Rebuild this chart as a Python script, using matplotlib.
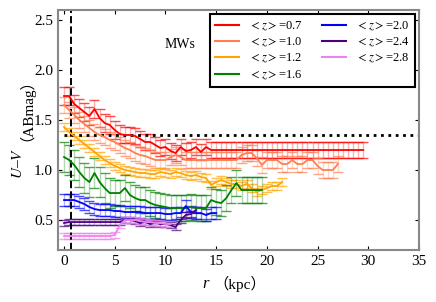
import matplotlib
matplotlib.use("Agg")
import matplotlib.pyplot as plt
from matplotlib.lines import Line2D
import numpy as np

plt.rcParams['font.family'] = ['Liberation Serif', 'Noto Sans CJK JP']
plt.rcParams['mathtext.fontset'] = 'stix'

# radius grid (kpc), 0.5 kpc bins
r_red = np.arange(0, 30, 0.5)
c_red = [1.74, 1.74, 1.66, 1.62, 1.58, 1.54, 1.61, 1.52, 1.47, 1.45,
         1.40, 1.36, 1.35, 1.35, 1.34, 1.31, 1.28, 1.28, 1.25, 1.22,
         1.23, 1.19, 1.17, 1.23, 1.19, 1.20, 1.23, 1.18, 1.23, 1.20,
         1.20, 1.20, 1.20, 1.20, 1.20, 1.20, 1.20, 1.20, 1.20, 1.20,
         1.20, 1.20, 1.20, 1.20, 1.20, 1.20, 1.20, 1.20, 1.20, 1.20,
         1.20, 1.20, 1.20, 1.20, 1.20, 1.20, 1.20, 1.20, 1.20, 1.20]
e_red = [0.09] * 12 + [0.08] * 48

r_coral = np.arange(0, 27.5, 0.5)
c_coral = [1.65, 1.60, 1.55, 1.50, 1.46, 1.42, 1.38, 1.35, 1.33, 1.30,
           1.28, 1.25, 1.22, 1.20, 1.17, 1.15, 1.14, 1.12, 1.10, 1.10,
           1.10, 1.13, 1.15, 1.13, 1.10, 1.10, 1.10, 1.10, 1.10, 1.10,
           1.10, 1.10, 1.10, 1.10, 1.10, 1.15, 1.17, 1.17, 1.12, 1.05,
           1.10, 1.10, 1.10, 1.06, 1.06, 1.10, 1.06, 1.06, 1.10, 1.10,
           1.04, 1.00, 1.00, 1.00, 1.06]
e_coral = [0.08] * 55

r_orange = np.arange(0, 22, 0.5)
c_orange = [1.43, 1.38, 1.34, 1.30, 1.26, 1.22, 1.18, 1.14, 1.10, 1.07,
            1.04, 1.02, 1.00, 0.99, 0.98, 0.97, 0.97, 0.96, 0.96, 0.98,
            0.97, 0.96, 0.98, 0.97, 0.95, 0.94, 0.95, 0.93, 0.92, 0.85,
            0.88, 0.90, 0.88, 0.86, 0.86, 0.84, 0.86, 0.82, 0.78, 0.80,
            0.82, 0.84, 0.84, 0.88]
e_orange = [0.04] * 44

r_green = np.arange(0, 20, 0.5)
c_green = [1.13, 1.10, 1.05, 0.98, 0.92, 0.88, 0.97, 0.88, 0.82, 0.77,
           0.77, 0.77, 0.82, 0.75, 0.72, 0.70, 0.70, 0.67, 0.65, 0.64,
           0.63, 0.62, 0.62, 0.62, 0.62, 0.63, 0.62, 0.62, 0.62, 0.70,
           0.68, 0.67, 0.72, 0.80, 0.87, 0.80, 0.80, 0.80, 0.80, 0.80]
e_green = [0.15] * 10 + [0.13] * 30

r_blue = np.arange(0, 15.5, 0.5)
c_blue = [0.70, 0.70, 0.70, 0.68, 0.66, 0.63, 0.61, 0.60, 0.60, 0.60,
          0.59, 0.59, 0.58, 0.58, 0.58, 0.58, 0.57, 0.57, 0.57, 0.57,
          0.56, 0.56, 0.57, 0.57, 0.64, 0.58, 0.57, 0.57, 0.55, 0.57,
          0.57]
e_blue = [0.06] * 31

r_indigo = np.arange(0, 13.5, 0.5)
c_indigo = [0.47, 0.48, 0.48, 0.48, 0.48, 0.48, 0.48, 0.48, 0.48, 0.48,
            0.48, 0.48, 0.50, 0.50, 0.49, 0.47, 0.48, 0.46, 0.47, 0.46,
            0.46, 0.45, 0.43, 0.50, 0.55, 0.56, 0.60]
e_indigo = [0.03] * 27

r_violet = np.arange(0, 11, 0.5)
c_violet = [0.34, 0.34, 0.34, 0.34, 0.34, 0.34, 0.34, 0.34, 0.34, 0.34,
            0.35, 0.45, 0.50, 0.50, 0.50, 0.49, 0.48, 0.48, 0.47, 0.47,
            0.46, 0.46]
e_violet = [0.03] * 22

series = [
    (r_red, c_red, e_red, 'red', '0.7'),
    (r_coral, c_coral, e_coral, 'coral', '1.0'),
    (r_orange, c_orange, e_orange, 'orange', '1.2'),
    (r_green, c_green, e_green, 'green', '1.6'),
    (r_blue, c_blue, e_blue, 'blue', '2.0'),
    (r_indigo, c_indigo, e_indigo, 'indigo', '2.4'),
    (r_violet, c_violet, e_violet, 'violet', '2.8'),
]

fig = plt.figure(figsize=(4.36, 3.02), dpi=100)
ax = fig.add_axes([0.133, 0.172, 0.828, 0.795])

handles = []
labels = []
for r, c, e, col, z in series:
    line, caps, bars = ax.errorbar(r, c, yerr=e, color=col, ecolor=col,
                                   capsize=3.5, lw=1.3, elinewidth=1)
    for b in bars:
        b.set_alpha(0.3)
    for cp in caps:
        cp.set_alpha(0.7)
    handles.append(Line2D([], [], color=col, lw=1.5))
    labels.append(r'$<\mathit{z}>$=' + z)

ax.axvline(0.7, color='black', ls='--', lw=1.4)
ax.plot([0, 35], [1.35, 1.35], color='black', ls=':', lw=2)
ax.text(9.9, 2.25, 'MWs', fontsize=10, va='center')

ax.set_xlim(-0.6, 35)
ax.set_ylim(0.2, 2.6)
ax.set_xticks([0, 5, 10, 15, 20, 25, 30, 35])
ax.set_yticks([0.5, 1.0, 1.5, 2.0, 2.5])
ax.set_xticklabels(['0', '5', '10', '15', '20', '25', '30', '35'])
ax.set_yticklabels(['0.5', '1.0', '1.5', '2.0', '2.5'])
ax.tick_params(direction='in', top=True, right=True, labelsize=11, length=3)
for s in ax.spines.values():
    s.set_color('#888888')
    s.set_linewidth(1.5)

# axis labels built from pieces so the full-width brackets use the CJK font
ax.text(0.41, -0.14, 'r', style='italic', fontsize=12, ha='center',
        va='center', transform=ax.transAxes,
        family=['Liberation Serif'])
ax.text(0.43, -0.14, '（kpc）', fontsize=11, ha='left', va='center',
        transform=ax.transAxes)
ax.text(-0.111, 0.36, r'$U$–$V$', fontsize=11, rotation=90,
        ha='center', va='center', transform=ax.transAxes)
ax.text(-0.111, 0.615, '（ABmag）', fontsize=11, rotation=90,
        ha='center', va='center', transform=ax.transAxes)

leg = ax.legend(handles, labels, ncol=2, loc='upper right', fontsize=9,
                fancybox=False, framealpha=1, edgecolor='black',
                handlelength=1.9, handletextpad=0.8, columnspacing=1.6,
                labelspacing=0.25, borderaxespad=0.35)
leg.get_frame().set_linewidth(1.5)

fig.savefig('out.png', dpi=100)
